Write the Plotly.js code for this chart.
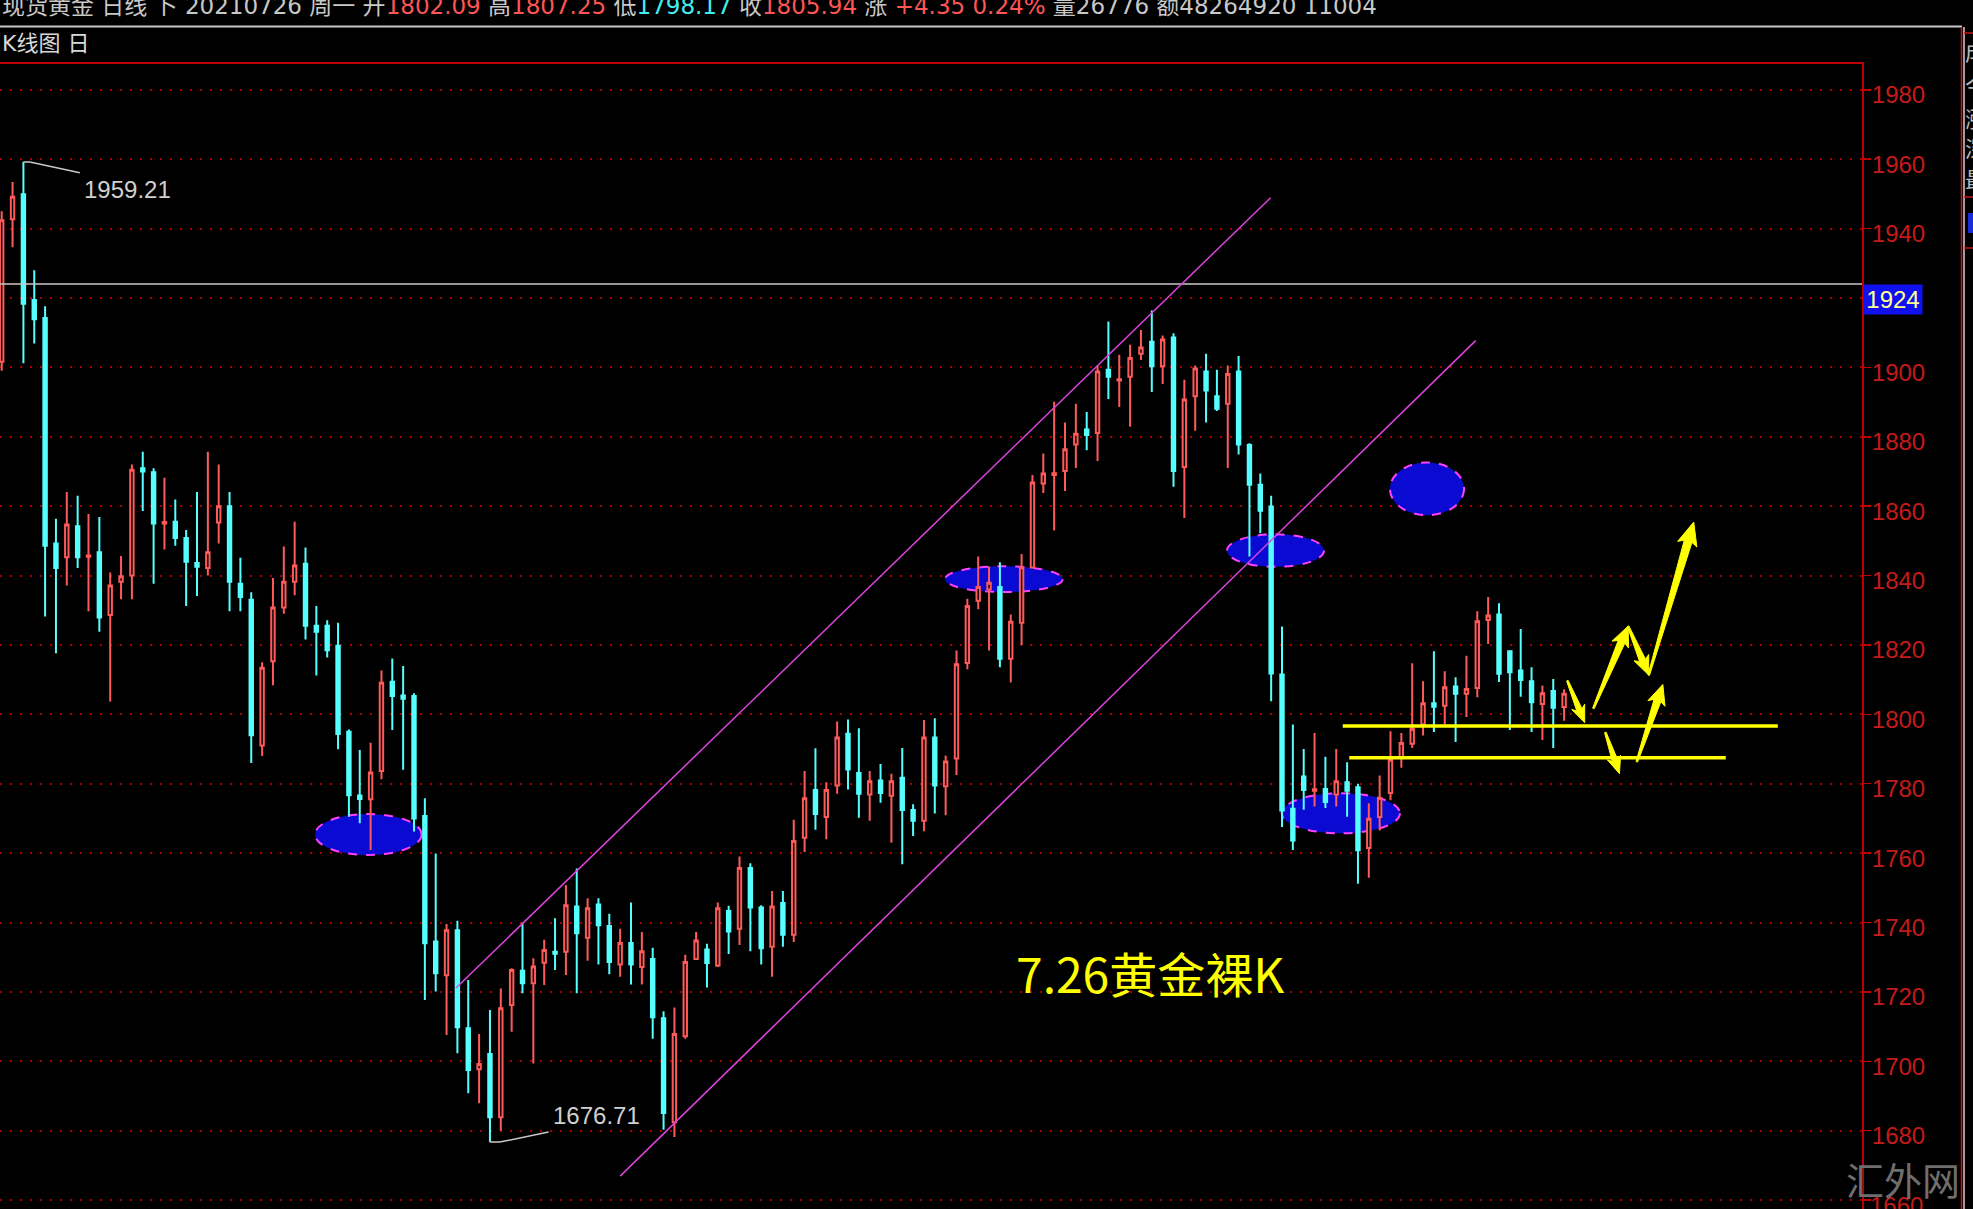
<!DOCTYPE html>
<html><head><meta charset="utf-8">
<script src="https://cdn.plot.ly/plotly-3.0.1.min.js"></script>
<style>html,body{margin:0;padding:0;background:#000;overflow:hidden}#chart{width:1973px;height:1209px}</style>
</head><body><div id="chart"></div>
<script>
// ---- data (daily candles, oldest -> 2021-07-26) ----
const openP = [
1901.6,1942.7,1949.9,1919.4,1914.2,1849.2,1845.3,1854.2,1845.4,1846.7,
1828.6,1838.2,1840.0,1870.9,1869.8,1855.0,1855.5,1850.8,1843.6,1842.2,
1855.3,1860.0,1837.6,1833.0,1791.0,1815.3,1830.8,1838.2,1843.4,1825.5,
1825.5,1819.8,1795.0,1776.6,1775.5,1783.7,1809.4,1805.4,1805.3,1770.7,
1734.5,1724.8,1737.8,1709.5,1697.7,1702.1,1683.9,1716.2,1726.1,1722.5,
1728.4,1731.6,1731.6,1744.6,1735.6,1745.2,1739.0,1727.9,1734.1,1727.2,
1729.5,1712.4,1682.4,1707.2,1729.5,1732.2,1727.6,1743.3,1738.2,1755.7,
1744.3,1733.0,1745.6,1736.5,1764.4,1778.2,1770.4,1779.5,1794.4,1783.1,
1776.9,1780.9,1776.5,1781.7,1772.4,1769.3,1793.3,1779.3,1787.3,1814.8,
1832.7,1836.0,1836.7,1816.0,1826.4,1842.3,1866.5,1869.0,1870.1,1877.8,
1882.1,1881.1,1899.3,1896.2,1897.3,1903.9,1907.4,1900.3,1908.6,1871.3,
1891.7,1898.8,1891.7,1889.5,1898.8,1877.6,1866.2,1859.9,1811.5,1772.8,
1782.1,1778.0,1778.5,1776.9,1780.4,1779.0,1761.5,1770.4,1777.3,1787.5,
1791.5,1797.1,1803.2,1802.5,1808.0,1805.9,1807.6,1827.2,1828.8,1818.2,
1812.6,1809.5,1803.0,1806.7,1802.09];
const highP = [
1945.0,1953.4,1959.21,1928.0,1917.6,1856.4,1864.1,1863.0,1857.7,1856.9,
1840.9,1845.6,1872.0,1875.7,1870.9,1868.2,1861.9,1853.1,1864.1,1875.7,
1872.0,1864.1,1845.1,1835.2,1815.0,1839.3,1848.4,1855.5,1848.1,1831.2,
1827.1,1826.4,1795.6,1789.7,1791.8,1812.6,1816.1,1813.9,1806.1,1775.8,
1759.9,1739.6,1740.5,1723.4,1707.9,1714.8,1721.0,1726.8,1739.9,1729.7,
1735.0,1741.2,1750.8,1755.6,1747.0,1747.0,1742.5,1738.2,1745.8,1737.3,
1732.7,1714.4,1715.5,1730.7,1737.3,1733.9,1745.8,1744.8,1759.0,1757.1,
1745.0,1749.1,1749.1,1769.6,1783.7,1790.2,1780.4,1797.9,1798.5,1796.0,
1783.7,1785.7,1782.9,1790.3,1774.1,1798.4,1798.9,1788.1,1818.4,1833.3,
1845.5,1842.6,1843.8,1828.8,1846.2,1869.0,1875.2,1890.1,1884.1,1889.5,
1887.1,1900.5,1913.2,1903.6,1906.5,1910.8,1916.4,1909.2,1909.8,1896.4,
1900.5,1903.9,1899.3,1900.5,1903.3,1878.1,1869.4,1863.0,1825.3,1797.1,
1790.0,1794.6,1787.8,1790.0,1786.2,1780.0,1774.4,1782.4,1795.1,1794.6,
1814.7,1809.5,1818.2,1812.4,1810.7,1816.9,1829.7,1833.8,1832.0,1818.4,
1824.6,1813.6,1808.3,1810.2,1807.25];
const lowP = [
1899.0,1934.6,1901.2,1906.9,1828.2,1817.6,1837.1,1842.2,1829.7,1823.8,
1803.7,1833.2,1833.2,1858.6,1837.6,1847.5,1848.6,1831.2,1834.1,1840.0,
1849.2,1829.7,1829.7,1786.0,1788.0,1808.4,1829.0,1834.3,1821.6,1811.2,
1816.4,1789.9,1770.5,1768.6,1760.9,1781.3,1795.5,1784.0,1766.2,1717.7,
1720.1,1707.6,1702.3,1690.8,1687.9,1676.71,1680.0,1708.5,1719.6,1699.4,
1722.0,1726.3,1724.9,1719.6,1729.0,1727.9,1725.1,1724.4,1722.1,1722.1,
1706.5,1680.3,1678.2,1706.5,1729.3,1721.3,1727.2,1730.9,1733.5,1731.7,
1727.9,1724.4,1733.0,1734.4,1760.3,1766.7,1764.0,1777.1,1778.3,1770.2,
1769.3,1774.5,1763.0,1756.8,1764.9,1766.3,1771.4,1770.9,1782.5,1813.0,
1830.3,1818.4,1813.6,1809.2,1820.0,1842.0,1863.8,1853.0,1864.4,1871.0,
1876.1,1873.0,1890.9,1888.6,1882.9,1902.1,1892.9,1895.2,1865.6,1856.6,
1881.7,1884.1,1887.4,1871.0,1874.9,1845.5,1852.2,1803.8,1767.5,1760.9,
1772.5,1773.4,1773.0,1773.4,1770.5,1751.2,1752.9,1766.5,1775.2,1784.6,
1790.3,1793.9,1794.9,1797.1,1792.0,1799.2,1804.9,1820.3,1809.3,1795.5,
1805.1,1794.9,1792.6,1790.3,1798.17];
const closeP = [
1942.4,1949.2,1918.3,1913.9,1848.6,1842.2,1854.7,1845.3,1845.8,1827.9,
1837.1,1839.8,1870.5,1870.0,1855.0,1855.4,1850.8,1844.0,1842.5,1846.7,
1860.0,1838.2,1833.8,1794.0,1813.4,1830.8,1838.2,1842.9,1825.5,1823.8,
1818.5,1794.3,1776.7,1775.6,1783.2,1809.1,1805.3,1804.5,1770.0,1734.0,
1725.4,1737.8,1709.8,1697.5,1699.2,1683.9,1715.3,1726.3,1722.5,1727.3,
1732.1,1731.0,1745.0,1736.9,1744.1,1739.2,1728.6,1734.1,1727.9,1731.7,
1712.7,1685.1,1707.9,1728.6,1734.8,1728.3,1744.1,1737.4,1755.7,1744.3,
1732.6,1744.6,1736.5,1763.5,1775.8,1771.3,1778.2,1793.3,1784.1,1777.1,
1780.7,1777.3,1780.7,1772.4,1769.3,1793.3,1779.5,1786.4,1814.4,1831.2,
1836.7,1837.9,1816.0,1826.7,1842.3,1866.8,1869.4,1869.5,1876.4,1880.9,
1880.5,1898.8,1897.3,1896.6,1902.7,1905.7,1900.3,1908.0,1870.1,1890.7,
1899.7,1893.3,1888.1,1898.1,1877.8,1866.2,1858.7,1811.8,1772.3,1763.6,
1778.2,1778.4,1774.7,1780.7,1778.0,1760.8,1769.9,1775.9,1786.9,1791.7,
1795.8,1803.2,1802.2,1807.8,1805.9,1807.3,1826.8,1828.5,1811.7,1812.1,
1809.9,1803.5,1806.1,1801.9,1805.94];
const candleIdx = openP.map((_, i) => i);

const yTicks = [1660,1680,1700,1720,1740,1760,1780,1800,1820,1840,1860,1880,1900,1920,1940,1960,1980];
const hiddenTicks = [1660, 1920];   // 1920 is covered by the 1924 marker; 1660 is drawn as a clipped label
const yTickText = yTicks.map(v => hiddenTicks.includes(v) ? '' : String(v));
const markPrice = 1924;
const highLabel = '1959.21';
const lowLabel = '1676.71';
const noteText = '7.26黄金裸K';
const supportLevels = [1796.6, 1787.5];

// overlay geometry (drawing annotations on the chart)
const channelX0 = [41.87, 57.0], channelY0 = [1721.1, 1666.9];
const channelX1 = [116.95, 135.85], channelY1 = [1948.9, 1907.7];
const ellipseX0 = [28.88, 86.94, 112.93, 127.95, 117.97];
const ellipseX1 = [38.70, 97.78, 121.87, 134.78, 128.87];
const ellipseY0 = [1759.46, 1835.24, 1842.51, 1857.38, 1765.71];
const ellipseY1 = [1771.27, 1842.68, 1851.87, 1872.59, 1777.23];
const supportX0 = [123.6, 124.2], supportX1 = [163.7, 158.9];
const arrowTailX = [144.3, 146.7, 149.9, 151.8, 147.8, 150.7];
const arrowTailY = [1809.7, 1801.7, 1825.4, 1811.3, 1794.8, 1786.3];
const arrowTipX = [145.9, 149.9, 151.8, 155.95, 149.1, 153.1];
const arrowTipY = [1797.6, 1825.4, 1811.3, 1855.4, 1782.9, 1808.6];
const arrowHeadLen = [14, 17, 16, 20, 14, 17];
const arrowHeadHalf = [7, 9, 8, 10, 7, 9];

// ---- geometry ----
const W = 1973, H = 1209, ML = 0, MR = 111, MT = 64, MB = 0;
const PW = W - ML - MR, PH = H - MT - MB;
const X_RANGE = [-0.157, 171.456];
const Y_RANGE = [1657.43, 1987.43];
const dx2px = x => (x - X_RANGE[0]) / (X_RANGE[1] - X_RANGE[0]) * PW;
const dy2px = y => (Y_RANGE[1] - y) / (Y_RANGE[1] - Y_RANGE[0]) * PH;
const px2dx = p => X_RANGE[0] + p / PW * (X_RANGE[1] - X_RANGE[0]);
const px2dy = p => Y_RANGE[1] - p / PH * (Y_RANGE[1] - Y_RANGE[0]);
const pX = px => (px - ML) / PW;
const pY = py => (H - MB - py) / PH;

function arrowPath(x0, y0, x1, y1, hl, hw) {
  const tx = dx2px(x0), ty = dy2px(y0), qx = dx2px(x1), qy = dy2px(y1);
  const L = Math.hypot(qx - tx, qy - ty);
  const ux = (qx - tx) / L, uy = (qy - ty) / L, nx = -uy, ny = ux;
  const bx = qx - ux * hl, by = qy - uy * hl;
  const st = 0.8, sh = hw * 0.4;
  const pts = [[tx + nx * st, ty + ny * st], [bx + nx * sh, by + ny * sh], [bx + nx * hw - ux * 3, by + ny * hw - uy * 3],
    [qx, qy], [bx - nx * hw - ux * 3, by - ny * hw - uy * 3], [bx - nx * sh, by - ny * sh], [tx - nx * st, ty - ny * st]];
  return 'M' + pts.map(p => px2dx(p[0]).toFixed(4) + ',' + px2dy(p[1]).toFixed(4)).join('L') + 'Z';
}

const shapes = [];
for (let i = 0; i < ellipseX0.length; i++) {
  shapes.push({type: 'circle', xref: 'x', yref: 'y', x0: ellipseX0[i], x1: ellipseX1[i], y0: ellipseY0[i], y1: ellipseY1[i],
    fillcolor: '#0a0ad2', line: {color: '#ff40ff', width: 2, dash: 'dash'}, layer: 'between'});
}
shapes.push({type: 'line', xref: 'paper', x0: 0, x1: 1, yref: 'y', y0: markPrice, y1: markPrice, line: {color: '#c8c8c8', width: 1.5}});
for (let i = 0; i < 2; i++) {
  shapes.push({type: 'line', xref: 'x', yref: 'y', x0: channelX0[i], y0: channelY0[i], x1: channelX1[i], y1: channelY1[i],
    line: {color: '#dd44dd', width: 1.5}});
}
for (let i = 0; i < 2; i++) {
  shapes.push({type: 'line', xref: 'x', yref: 'y', x0: supportX0[i], x1: supportX1[i], y0: supportLevels[i], y1: supportLevels[i],
    line: {color: '#ffff00', width: 3.5}});
}
for (let i = 0; i < arrowTailX.length; i++) {
  shapes.push({type: 'path', xref: 'x', yref: 'y', path: arrowPath(arrowTailX[i], arrowTailY[i], arrowTipX[i], arrowTipY[i], arrowHeadLen[i], arrowHeadHalf[i]),
    fillcolor: '#ffff00', line: {color: '#ffff00', width: 1}});
}
shapes.push({type: 'path', xref: 'x', yref: 'y', path: `M2,${highP[2]}L2.6,${highP[2]}L7.2,1956.1`, line: {color: '#c8c8c8', width: 1.5}});
shapes.push({type: 'path', xref: 'x', yref: 'y', path: `M45,${lowP[45]}L45.9,${lowP[45]}L50.4,1679.6`, line: {color: '#c8c8c8', width: 1.5}});
shapes.push({type: 'line', xref: 'paper', yref: 'paper', x0: 0, x1: pX(1962), y0: pY(26.5), y1: pY(26.5), line: {color: '#c8c8c8', width: 2}});
shapes.push({type: 'line', xref: 'paper', yref: 'paper', x0: pX(1961.5), x1: pX(1961.5), y0: pY(27), y1: 0, line: {color: '#c01818', width: 1.5}});
shapes.push({type: 'line', xref: 'paper', yref: 'paper', x0: pX(1964), x1: pX(1964), y0: pY(27), y1: 0, line: {color: '#e8c8c8', width: 1.5}});
shapes.push({type: 'line', xref: 'paper', yref: 'paper', x0: pX(1964), x1: pX(1973), y0: pY(33), y1: pY(33), line: {color: '#c01818', width: 1.5}});
shapes.push({type: 'line', xref: 'paper', yref: 'paper', x0: pX(1964), x1: pX(1973), y0: pY(197), y1: pY(197), line: {color: '#c01818', width: 1.5}});
shapes.push({type: 'line', xref: 'paper', yref: 'paper', x0: pX(1964), x1: pX(1973), y0: pY(248), y1: pY(248), line: {color: '#c01818', width: 1.5}});
shapes.push({type: 'rect', xref: 'paper', yref: 'paper', x0: pX(1968), x1: pX(1973), y0: pY(233), y1: pY(213), fillcolor: '#1a2ad8', line: {width: 0}});

const gray = '#c8c8c8', red = '#ff5555', cyan = '#40f0f0';
const sp = (c, t) => `<span style="color:${c}">${t}</span>`;
const headerText = sp(gray, '现货黄金 日线 卜 20210726 周一 开') + sp(red, '1802.09') + sp(gray, ' 高') + sp(red, '1807.25') +
  sp(gray, ' 低') + sp(cyan, '1798.17') + sp(gray, ' 收') + sp(red, '1805.94') + sp(gray, ' 涨 ') + sp(red, '+4.35 0.24%') +
  sp(gray, ' 量26776 额48264920 11004');

const annotations = [
  {xref: 'paper', yref: 'paper', x: 0, y: pY(6), xanchor: 'left', yanchor: 'middle', showarrow: false, text: headerText,
   font: {family: 'DejaVu Sans, Noto Sans CJK SC, sans-serif', size: 23, color: gray}},
  {xref: 'paper', yref: 'paper', x: 0, y: pY(44), xanchor: 'left', yanchor: 'middle', showarrow: false, text: 'K线图 日',
   font: {family: 'DejaVu Sans, Noto Sans CJK SC, sans-serif', size: 22, color: '#d8d8d8'}},
  {xref: 'x', yref: 'y', x: 7.4, y: 1951.4, xanchor: 'left', yanchor: 'middle', showarrow: false, text: highLabel,
   font: {family: 'Liberation Sans, Arial, sans-serif', size: 24, color: '#d0d0d0'}},
  {xref: 'x', yref: 'y', x: 50.6, y: 1684.5, xanchor: 'left', yanchor: 'middle', showarrow: false, text: lowLabel,
   font: {family: 'Liberation Sans, Arial, sans-serif', size: 24, color: '#d0d0d0'}},
  {xref: 'x', yref: 'y', x: 105.8, y: 1725.8, xanchor: 'center', yanchor: 'middle', showarrow: false, text: noteText,
   font: {family: 'Noto Sans CJK SC, sans-serif', size: 48, color: '#ffff00'}},
  {xref: 'paper', yref: 'y', x: pX(1862.7), y: markPrice, xanchor: 'left', yanchor: 'top', showarrow: false, text: String(markPrice),
   width: 58, height: 29, borderpad: 0, bgcolor: '#1010f0',
   font: {family: 'Liberation Sans, Arial, sans-serif', size: 24, color: '#ffff90'}},
  {xref: 'paper', yref: 'y', x: pX(1868), y: yTicks[0], yshift: -5, xanchor: 'left', yanchor: 'middle', showarrow: false,
   text: String(yTicks[0]), font: {family: 'Liberation Sans, Arial, sans-serif', size: 24, color: '#c41a1a'}},
  {xref: 'paper', yref: 'paper', x: pX(1903), y: pY(1178), xanchor: 'center', yanchor: 'middle', showarrow: false, text: '汇外网',
   font: {family: 'Noto Sans CJK SC, sans-serif', size: 38, color: '#6e6e6e'}}
];
const edgeGlyphs = ['成', '今', '涨', '深', '最'];
const edgeGlyphY = [50, 84, 117, 147, 178];
edgeGlyphs.forEach((g, i) => annotations.push({xref: 'paper', yref: 'paper', x: pX(1976), y: pY(edgeGlyphY[i]), xanchor: 'center', yanchor: 'middle',
  showarrow: false, text: g, font: {family: 'Noto Sans CJK SC, sans-serif', size: 22, color: '#b8b8b8'}}));

const trace = {
  type: 'candlestick', x: candleIdx, open: openP, high: highP, low: lowP, close: closeP,
  increasing: {line: {color: '#ff5a5a', width: 2}, fillcolor: '#000000'},
  decreasing: {line: {color: '#55ffff', width: 2}, fillcolor: '#55ffff'},
  whiskerwidth: 0, hoverinfo: 'none', showlegend: false
};

const layout = {
  width: W, height: H, paper_bgcolor: '#000', plot_bgcolor: '#000',
  margin: {l: ML, r: MR, t: MT, b: MB, pad: 0}, showlegend: false, dragmode: false,
  boxgap: 0.55, boxgroupgap: 0.3,
  xaxis: {type: 'linear', range: X_RANGE, showgrid: false, zeroline: false, showticklabels: false, ticks: '', side: 'top',
    showline: true, linecolor: '#c00000', linewidth: 2, rangeslider: {visible: false}, fixedrange: true},
  yaxis: {side: 'right', range: Y_RANGE, tickmode: 'array', tickvals: yTicks, ticktext: yTickText,
    tickfont: {family: 'Liberation Sans, Arial, sans-serif', size: 24, color: '#c41a1a'},
    ticks: 'outside', ticklen: 7, tickwidth: 1.5, tickcolor: '#c00000', ticklabelshift: 5, ticklabelstandoff: -4,
    showline: true, linecolor: '#c00000', linewidth: 2,
    showgrid: true, gridcolor: '#a80000', griddash: '2px,8px', gridwidth: 2, zeroline: false, fixedrange: true},
  shapes: shapes, annotations: annotations
};

Plotly.newPlot('chart', [trace], layout, {staticPlot: true, displayModeBar: false});
</script>
</body></html>
